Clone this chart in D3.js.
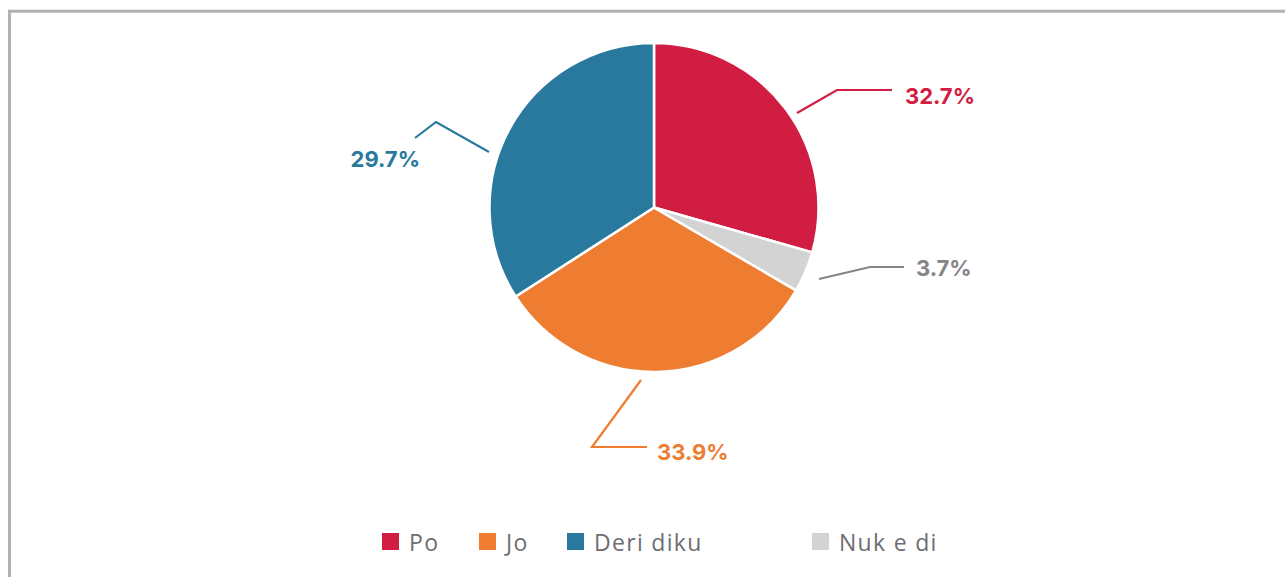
<!DOCTYPE html>
<html>
<head>
<meta charset="utf-8">
<script src="https://cdn.jsdelivr.net/npm/d3@7"></script>
<style>
  html, body { margin: 0; padding: 0; background: #fff; }
  svg { display: block; }
</style>
</head>
<body>
<script>
// categories in legend order
const categories = ["Po", "Jo", "Deri diku", "Nuk e di"];
// slice sizes as drawn (share of the circle, %)
const shares = [29.4, 32.5, 34.1, 4.0];
// percentages printed next to the slices
const labelText = ["32.7%", "33.9%", "29.7%", "3.7%"];
// drawing order, clockwise from 12 o'clock
const drawOrder = ["Po", "Nuk e di", "Jo", "Deri diku"];

const colors = {
  "Po": "#d11d41",
  "Jo": "#ee7d32",
  "Deri diku": "#29799e",
  "Nuk e di": "#d3d3d3"
};
const labelColors = {
  "Po": "#d11d41",
  "Jo": "#ee7d32",
  "Deri diku": "#29799e",
  "Nuk e di": "#858588"
};

const width = 1285;
const height = 577;
const cx = 654, cy = 207.5, radius = 164.5;

const svg = d3.select("body").append("svg")
  .attr("width", width)
  .attr("height", height);

// frame, only left and top edges inside the window
svg.append("rect")
  .attr("x", 9.5).attr("y", 11.2)
  .attr("width", width + 20).attr("height", height + 20)
  .attr("fill", "none")
  .attr("stroke", "#b1b1b5")
  .attr("stroke-width", 3);

const data = categories.map((c, i) => ({ name: c, value: shares[i], label: labelText[i] }));

const pie = d3.pie()
  .value(d => d.value)
  .sort((a, b) => drawOrder.indexOf(a.name) - drawOrder.indexOf(b.name));

const arc = d3.arc().innerRadius(0).outerRadius(radius);

const g = svg.append("g").attr("transform", `translate(${cx},${cy})`);

g.selectAll("path")
  .data(pie(data))
  .join("path")
  .attr("d", arc)
  .attr("fill", d => colors[d.data.name])
  .attr("stroke", "#fff")
  .attr("stroke-width", 2.5)
  .attr("stroke-linejoin", "round");

// leader lines and labels (placed by hand like the original)
const labelLayout = {
  "Po":        { pts: [[797, 113], [837, 90], [892, 90]],   x: 905, y: 96,  anchor: "start" },
  "Nuk e di":  { pts: [[819, 279], [870, 267], [904, 267]], x: 916, y: 268, anchor: "start" },
  "Deri diku": { pts: [[489, 152], [436, 122], [415, 138]], x: 420, y: 159, anchor: "end" },
  "Jo":        { pts: [[641, 380], [592, 447], [647, 447]], x: 657, y: 452, anchor: "start" }
};

const line = d3.line();
data.forEach(d => {
  const L = labelLayout[d.name];
  svg.append("path")
    .attr("d", line(L.pts))
    .attr("fill", "none")
    .attr("stroke", labelColors[d.name])
    .attr("stroke-width", 2.2);
  svg.append("text")
    .attr("x", L.x).attr("y", L.y)
    .attr("text-anchor", L.anchor)
    .attr("dominant-baseline", "central")
    .attr("font-family", "Inter, Roboto, sans-serif")
    .attr("font-weight", 700)
    .attr("font-size", 22)
    .attr("fill", labelColors[d.name])
    .text(d.label);
});

// legend
const legendX = [382, 479, 567, 812];
const legend = svg.append("g");
categories.forEach((c, i) => {
  const item = legend.append("g").attr("transform", `translate(${legendX[i]},533)`);
  item.append("rect")
    .attr("width", 17).attr("height", 17)
    .attr("fill", colors[c]);
  item.append("text")
    .attr("x", 27).attr("y", 9)
    .attr("dominant-baseline", "central")
    .attr("font-family", "'Open Sans', sans-serif")
    .attr("font-size", 23)
    .attr("letter-spacing", 1.3)
    .attr("fill", "#6d6d72")
    .text(c);
});
</script>
</body>
</html>
